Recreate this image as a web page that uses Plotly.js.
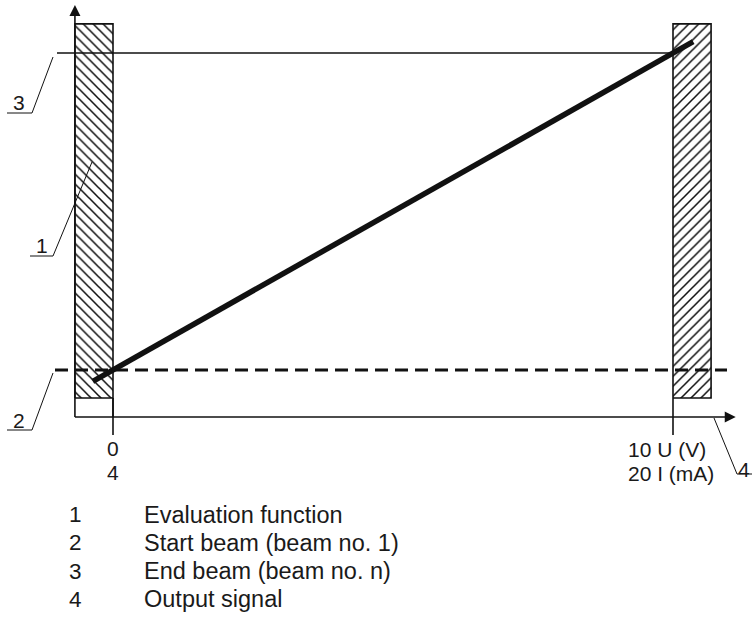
<!DOCTYPE html>
<html><head><meta charset="utf-8">
<script src="https://cdn.plot.ly/plotly-3.0.1.min.js"></script>
<style>html,body{margin:0;padding:0;background:#fff}#chart{width:752px;height:617px}</style>
</head><body><div id="chart"></div>
<script>
// ---- data (x: output signal in V, y: beam level units, end beam = 10) ----
const signalX = [0, 10];
const voltageLabels = ['0', '10 U (V)'];
const currentLabels = ['4', '20 I (mA)'];
const beamY = [1.29, 10];            // start beam, end beam
const evalX = [-0.36, 10.36];        // evaluation function line
const evalY = [0.98, 10.31];
const zoneLeftX = [-0.68, 0];        // hatched zones
const zoneRightX = [10, 10.68];
const zoneY = [0.52, 10.8];
const axisTip = [11.12, 11.32];      // x-axis tip, y-axis tip
const legendKeys = ['1', '2', '3', '4'];
const legendTexts = ['Evaluation function', 'Start beam (beam no. 1)', 'End beam (beam no. n)', 'Output signal'];

// ---- pixel helpers for annotation/leader placement ----
const PX0 = 113, PXU = 56, PY0 = 417, PYU = 36.4;
const X = px => (px - PX0) / PXU;
const Y = py => (PY0 - py) / PYU;

const BLACK = '#111';
const FONT = {family: 'Liberation Sans, Arial, sans-serif', size: 21, color: '#1a1a1a'};
const FONT_K = {family: 'Liberation Sans, Arial, sans-serif', size: 22.5, color: '#1a1a1a'};
const FONT_L = {family: 'Liberation Sans, Arial, sans-serif', size: 23.5, color: '#1a1a1a'};
const traces = [];

function rectPath(xs, ys) {
  return {x: [xs[0], xs[1], xs[1], xs[0], xs[0]], y: [ys[0], ys[0], ys[1], ys[1], ys[0]]};
}
// hatched zones
[[zoneLeftX, '\\'], [zoneRightX, '/']].forEach(([xs, shp]) => {
  const p = rectPath(xs, zoneY);
  traces.push({type: 'scatter', mode: 'lines', x: p.x, y: p.y, fill: 'toself', fillcolor: 'white',
    fillpattern: {shape: shp, fgcolor: BLACK, bgcolor: 'white', size: 7, solidity: 0.22},
    line: {color: BLACK, width: 1.6}, hoverinfo: 'skip'});
});
// lower box of left zone
traces.push({type: 'scatter', mode: 'lines', x: [zoneLeftX[1], zoneLeftX[1]], y: [0, zoneY[0]],
  line: {color: BLACK, width: 1.6}, hoverinfo: 'skip'});
// ticks at 0 and 10
signalX.forEach(v => traces.push({type: 'scatter', mode: 'lines', x: [v, v], y: [zoneY[0], Y(435)],
  line: {color: BLACK, width: 1.6}, hoverinfo: 'skip'}));
// axes
traces.push({type: 'scatter', mode: 'lines', x: [zoneLeftX[0], zoneLeftX[0]], y: [0, axisTip[1] - 0.2],
  line: {color: BLACK, width: 1.6}, hoverinfo: 'skip'});
traces.push({type: 'scatter', mode: 'lines', x: [zoneLeftX[0], axisTip[0] - 0.15], y: [0, 0],
  line: {color: BLACK, width: 1.6}, hoverinfo: 'skip'});
traces.push({type: 'scatter', mode: 'markers', x: [zoneLeftX[0]], y: [axisTip[1]],
  marker: {symbol: 'arrow-up', size: 11, color: BLACK, line: {width: 0}}, hoverinfo: 'skip'});
traces.push({type: 'scatter', mode: 'markers', x: [axisTip[0]], y: [0],
  marker: {symbol: 'arrow-right', size: 11, color: BLACK, line: {width: 0}}, hoverinfo: 'skip'});
// end beam (solid)
traces.push({type: 'scatter', mode: 'lines', x: [X(57), signalX[1]], y: [beamY[1], beamY[1]],
  line: {color: BLACK, width: 1.6}, hoverinfo: 'skip'});
// start beam (dashed)
traces.push({type: 'scatter', mode: 'lines', x: [X(55), X(727)], y: [beamY[0], beamY[0]],
  line: {color: BLACK, width: 3, dash: '13px,7px'}, hoverinfo: 'skip'});
// evaluation function
traces.push({type: 'scatter', mode: 'lines', x: evalX, y: evalY,
  line: {color: BLACK, width: 5.5}, hoverinfo: 'skip'});
// leader lines
const leaders = [
  [[53, 57], [32, 113], [7, 113]],
  [[53, 373], [32, 430], [7, 430]],
  [[92, 162], [53, 256], [30, 256]],
  [[714, 418], [737, 474], [752, 474]]
];
leaders.forEach(pts => traces.push({type: 'scatter', mode: 'lines',
  x: pts.map(p => X(p[0])), y: pts.map(p => Y(p[1])),
  line: {color: BLACK, width: 1}, hoverinfo: 'skip'}));

const ann = [];
function txt(t, px, py, xa, f) {
  ann.push({text: t, x: X(px), y: Y(py), xref: 'x', yref: 'y', showarrow: false,
    xanchor: xa || 'center', yanchor: 'middle', font: f || FONT});
}
txt(voltageLabels[0], 113, 448.5);
txt(currentLabels[0], 113, 472.5);
txt(voltageLabels[1], 626, 449.5, 'left');
txt(currentLabels[1], 626, 473.5, 'left');
txt(legendKeys[2], 19, 102.5);
txt(legendKeys[1], 18.5, 420);
txt(legendKeys[0], 42, 245.5);
txt(legendKeys[3], 744, 469.5);
legendKeys.forEach((k, i) => {
  txt(k, 67, 514.5 + 28.3 * i, 'left', FONT_K);
  txt(legendTexts[i], 142, 514.5 + 28.3 * i, 'left', FONT_L);
});

const layout = {
  width: 752, height: 617, margin: {l: 0, r: 0, t: 0, b: 0},
  paper_bgcolor: 'white', plot_bgcolor: 'white', showlegend: false,
  xaxis: {range: [X(0), X(752)], visible: false, fixedrange: true},
  yaxis: {range: [Y(617), Y(0)], visible: false, fixedrange: true},
  annotations: ann
};
Plotly.newPlot('chart', traces, layout, {displayModeBar: false, staticPlot: true});
</script></body></html>
